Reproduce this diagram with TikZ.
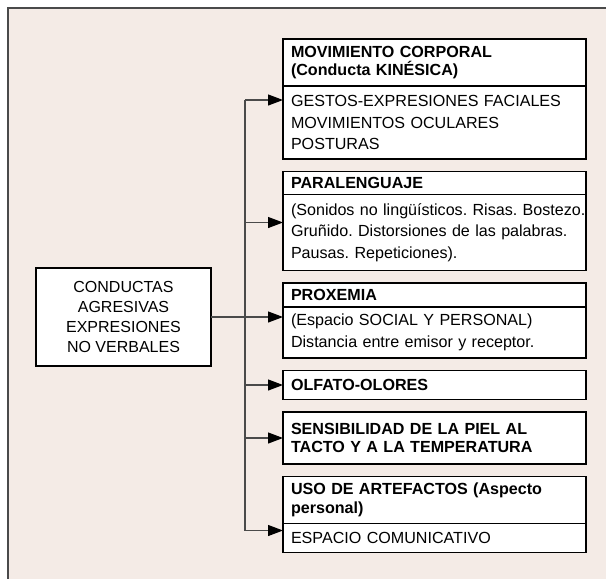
\documentclass[tikz,border=0pt]{standalone}
\usepackage{fontspec}
\setmainfont{Liberation Sans}
\usetikzlibrary{positioning,arrows.meta,calc}
\definecolor{paper}{HTML}{F4EBE6}
\definecolor{rule}{HTML}{4A4A4A}
\frenchspacing

\begin{document}
\begin{tikzpicture}[x=1pt,y=1pt,
  node distance=12.5pt,
  box/.style={draw=black,line width=1.1pt,fill=white,inner ysep=0pt,outer sep=0pt},
  headbox/.style={box,text width=287pt,inner xsep=8pt,align=left,
    font=\fontsize{16.1}{18.5}\selectfont\bfseries},
  bodybox/.style={box,text width=287pt,inner xsep=8pt,align=left,
    font=\fontsize{16.1}{21.5}\selectfont},
  rootbox/.style={box,minimum width=175pt,minimum height=98pt,align=center,
    font=\fontsize{16}{20}\selectfont},
  arr/.style={draw=rule,line width=1.2pt,-{Triangle[length=15pt,width=11pt,color=black]}}]
\useasboundingbox (0,0) rectangle (606,-579);
% background sheet
\fill[paper] (8,-8) rectangle (606,-579);
\draw[rule,line width=2pt] (8,-579) -- (8,-8) -- (606,-8);

% root
\node[rootbox,anchor=north west] (main) at (36,-268)
  {CONDUCTAS\\AGRESIVAS\\EXPRESIONES\\NO VERBALES};

% categories
\node[headbox,anchor=north west,minimum height=47pt] (h1) at (283,-39)
  {MOVIMIENTO CORPORAL\\(Conducta KINÉSICA)};
\node[bodybox,below=0pt of h1,minimum height=73pt] (b1)
  {GESTOS-EXPRESIONES FACIALES\\MOVIMIENTOS OCULARES\\POSTURAS};
\node[headbox,below=of b1,minimum height=23pt] (h2) {PARALENGUAJE};
\node[bodybox,below=0pt of h2,minimum height=76pt] (b2)
  {\mbox{(Sonidos no lingüísticos. Risas. Bostezo.}\\Gruñido. Distorsiones de las palabras.\\Pausas. Repeticiones).};
\node[headbox,below=of b2,minimum height=24pt] (h3) {PROXEMIA};
\node[bodybox,below=0pt of h3,minimum height=51pt] (b3)
  {(Espacio SOCIAL Y PERSONAL)\\Distancia entre emisor y receptor.};
\node[headbox,below=of b3,minimum height=29pt] (h4) {OLFATO-OLORES};
\node[headbox,below=of h4,minimum height=52pt] (h5)
  {SENSIBILIDAD DE LA PIEL AL\\TACTO Y A LA TEMPERATURA};
\node[headbox,below=of h5,minimum height=47pt] (h6)
  {USO DE ARTEFACTOS (Aspecto\\personal)};
\node[bodybox,below=0pt of h6,minimum height=29pt] (b6) {ESPACIO COMUNICATIVO};

% arrow ends
\coordinate (jn) at ($(main.east)+(34,0)$);
\coordinate (a1) at ($(b1.north west)+(0,-14)$);
\coordinate (a2) at ($(b2.north west)+(0,-28)$);
\coordinate (a6) at ($(h6.south west)+(0,-7)$);

\draw[rule,line width=1.2pt] (jn |- a1) -- (jn |- a6);
\draw[arr] (main.east) -- (main.east -| b3.west);
\draw[arr] (jn |- a1) -- (a1);
\draw[arr] (jn |- a2) -- (a2);
\draw[arr] (jn |- h4.west) -- (h4.west);
\draw[arr] (jn |- h5.west) -- (h5.west);
\draw[arr] (jn |- a6) -- (a6);
\end{tikzpicture}
\end{document}
